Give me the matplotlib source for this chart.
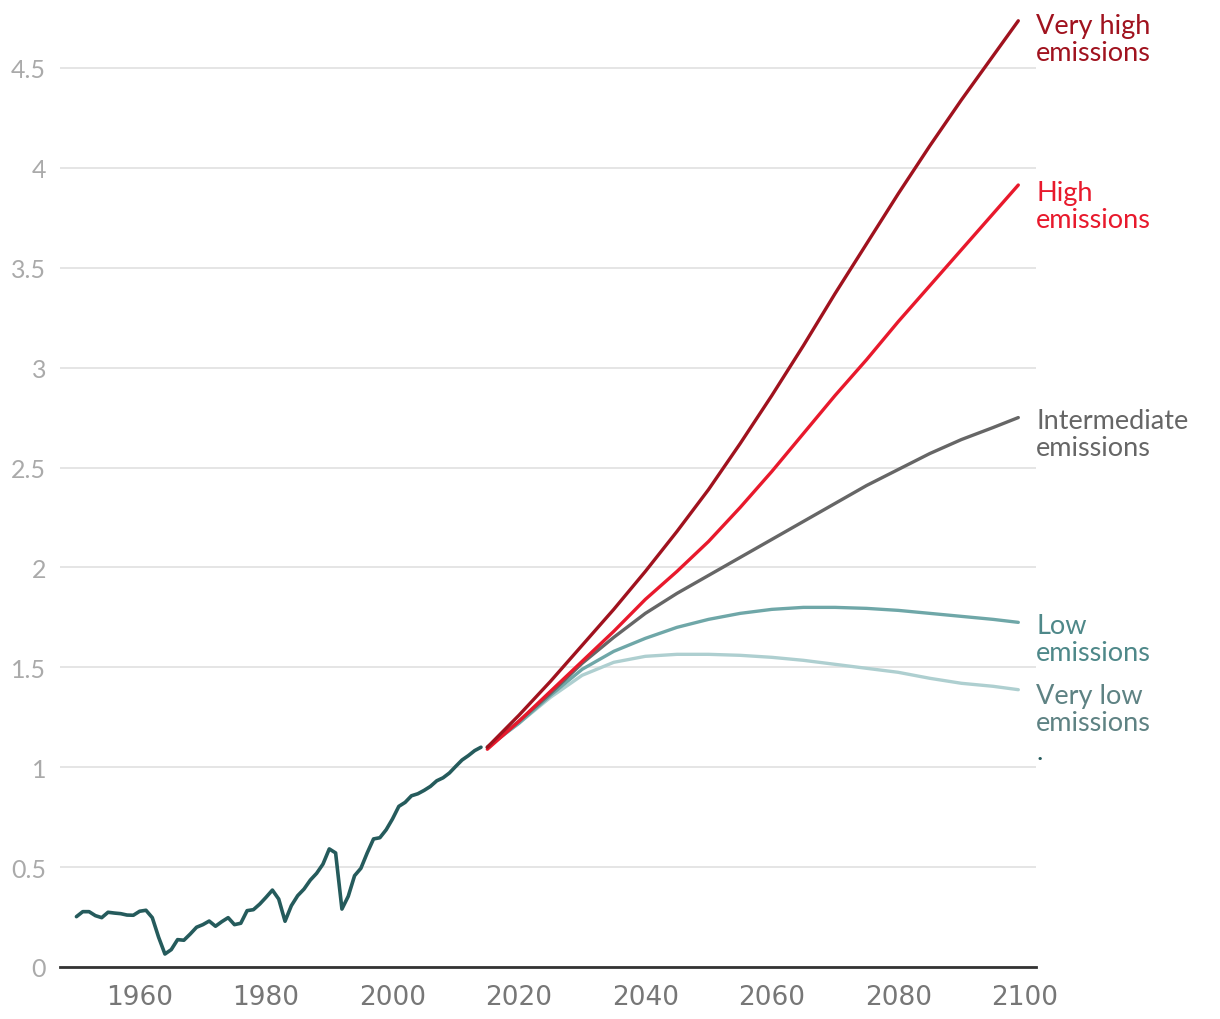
import numpy as np
import matplotlib
matplotlib.use("Agg")
import matplotlib.pyplot as plt

# observed series, 1950-2014
hist_years = list(range(1950, 2015))
hist_vals = [0.252, 0.277, 0.277, 0.257, 0.247, 0.274, 0.270, 0.267, 0.260, 0.259,
             0.279, 0.284, 0.247, 0.149, 0.065, 0.087, 0.137, 0.134, 0.165, 0.199,
             0.212, 0.230, 0.204, 0.227, 0.247, 0.212, 0.219, 0.282, 0.287, 0.315,
             0.349, 0.385, 0.340, 0.229, 0.307, 0.357, 0.390, 0.435, 0.469, 0.515,
             0.591, 0.571, 0.290, 0.354, 0.457, 0.494, 0.571, 0.641, 0.647, 0.687,
             0.741, 0.804, 0.824, 0.857, 0.867, 0.884, 0.904, 0.932, 0.947, 0.971,
             1.004, 1.036, 1.058, 1.083, 1.100]

# scenario projections, read every 5 years
proj_years = [2015, 2020, 2025, 2030, 2035, 2040, 2045, 2050, 2055, 2060,
              2065, 2070, 2075, 2080, 2085, 2090, 2095, 2099]
very_high = [1.10, 1.26, 1.43, 1.61, 1.79, 1.98, 2.18, 2.39, 2.62, 2.86,
             3.11, 3.37, 3.62, 3.87, 4.11, 4.34, 4.56, 4.736]
high = [1.09, 1.23, 1.38, 1.53, 1.68, 1.84, 1.98, 2.13, 2.30, 2.48,
        2.67, 2.86, 3.04, 3.23, 3.41, 3.59, 3.77, 3.914]
intermediate = [1.10, 1.23, 1.37, 1.52, 1.65, 1.77, 1.87, 1.96, 2.05, 2.14,
                2.23, 2.32, 2.41, 2.49, 2.57, 2.64, 2.70, 2.75]
low = [1.10, 1.22, 1.36, 1.49, 1.58, 1.645, 1.70, 1.74, 1.77, 1.79,
       1.80, 1.80, 1.795, 1.785, 1.77, 1.755, 1.74, 1.725]
very_low = [1.10, 1.22, 1.35, 1.46, 1.525, 1.555, 1.565, 1.565, 1.56, 1.55,
            1.535, 1.515, 1.495, 1.475, 1.445, 1.42, 1.405, 1.388]

scenarios = [
    ("Very low\nemissions", very_low, "#aecfd0", "#5e8283", 1.29),
    ("Low\nemissions", low, "#6fa7a8", "#4e8889", 1.64),
    ("Intermediate\nemissions", intermediate, "#666666", "#666666", 2.667),
    ("High\nemissions", high, "#e8192c", "#e8192c", 3.81),
    ("Very high\nemissions", very_high, "#a0121e", "#a0121e", 4.645),
]
HIST = "#255b5c"
FONT = ["Lato", "DejaVu Sans"]

fig = plt.figure(figsize=(12.2, 10.2), dpi=100)
ax = fig.add_axes([60/1220, 52/1020, 976/1220, 959/1020])

ax.plot(hist_years, hist_vals, color=HIST, lw=2.6, solid_capstyle="round", zorder=3)
for name, vals, c, tc, ly in scenarios:
    ax.plot(proj_years, vals, color=c, lw=2.4, solid_capstyle="round", zorder=2)
    ax.text(2101.8, ly, name, color=tc, fontsize=19.5, family=FONT,
            va="center", ha="left", linespacing=1.1)
ax.text(2101.8, 1.04, ".", color=HIST, fontsize=19.5, family=FONT, va="baseline", ha="left")

ax.set_xlim(1947.4, 2101.8)
ax.set_ylim(0, 4.8)
ax.set_yticks([0, 0.5, 1, 1.5, 2, 2.5, 3, 3.5, 4, 4.5])
ax.set_yticklabels(["0", "0.5", "1", "1.5", "2", "2.5", "3", "3.5", "4", "4.5"],
                   family=FONT, fontsize=18, color="#aaaaaa")
ax.set_xticks(range(1960, 2101, 20))
ax.set_xticklabels([str(y) for y in range(1960, 2101, 20)],
                   family=["Liberation Sans Narrow", "DejaVu Sans"], fontsize=19, color="#777777")
ax.tick_params(axis="y", length=0, pad=10)
ax.tick_params(axis="x", length=0, pad=12)
ax.grid(axis="y", color="#e3e3e3", lw=1.3)
ax.set_axisbelow(True)
for s in ["top", "right", "left"]:
    ax.spines[s].set_visible(False)
ax.spines["bottom"].set_color("#333333")
ax.spines["bottom"].set_linewidth(2)
ax.spines["bottom"].set_zorder(4)

fig.savefig("out.png", dpi=100)
